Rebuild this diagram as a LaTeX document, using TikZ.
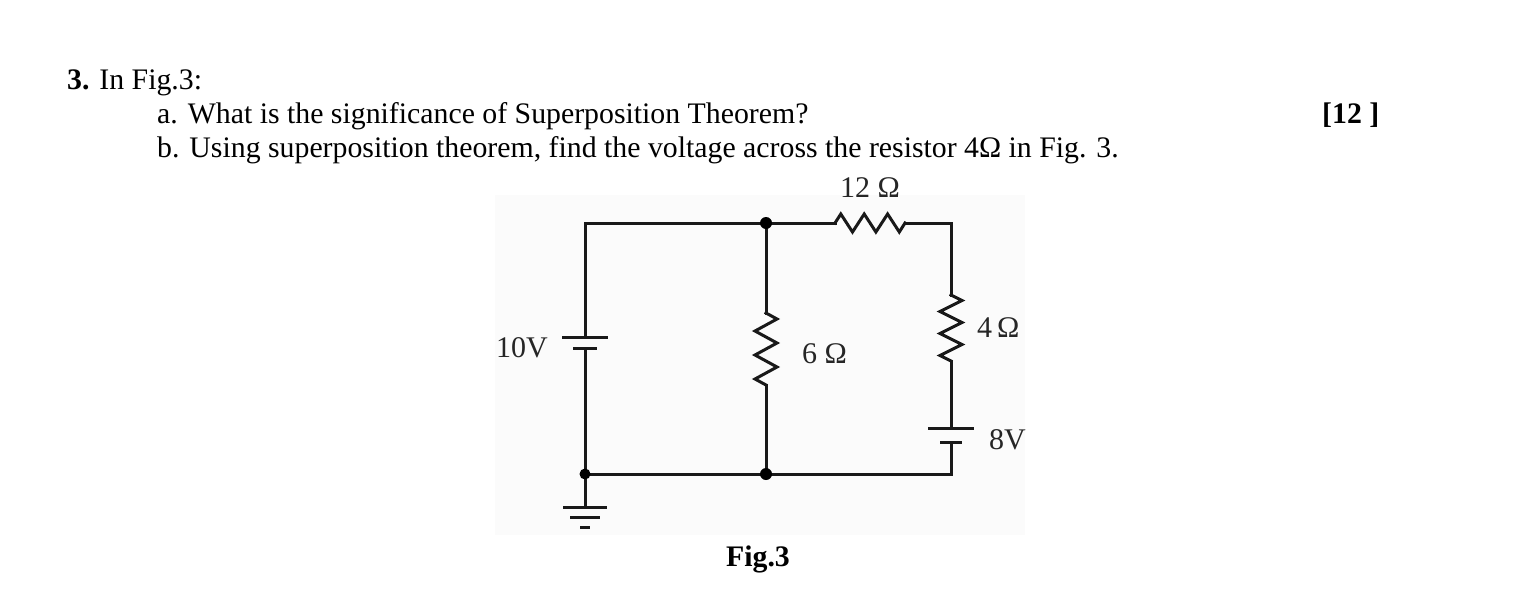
\documentclass[tikz,border=0pt]{standalone}
\usepackage{fontspec}
\setmainfont{Liberation Serif}
\begin{document}
\begin{tikzpicture}[x=1pt,y=-1pt,
  txt/.style={inner sep=0pt,font=\fontsize{29.8}{34}\selectfont},
  lbl/.style={inner sep=0pt,font=\fontsize{30}{34}\selectfont,text=black!85},
  wire/.style={line width=3pt,line cap=rect,line join=miter,black!90},
  plate/.style={line width=3pt,black!90},
  junction/.style={circle,fill=black,inner sep=0pt,minimum size=12pt}]
\useasboundingbox (0,0) rectangle (1517,600);
\fill[black!1.5] (495,195) rectangle (1025,535);
% text
\node[txt,anchor=base west] (l1) at (67,89) {\textbf{3.} In Fig.3:};
\node[txt,anchor=base west] (la) at (157,123) {a. What is the significance of Superposition Theorem?};
\node[txt,anchor=base west] (lb) at (157,157) {b. Using superposition theorem, find the voltage across the resistor 4Ω in Fig. 3.};
\node[txt,anchor=base west] (mk) at (1322,123) {\textbf{[12 ]}};
% coordinates
\coordinate (TL) at (585,223);
\coordinate (T) at (766,223);
\coordinate (R12a) at (835,223);
\coordinate (R12b) at (905,223);
\coordinate (TR) at (951,223);
\coordinate (R4a) at (951,295);
\coordinate (R4b) at (951,361);
\coordinate (B8l) at (951,428);
\coordinate (B8s) at (951,442);
\coordinate (BR) at (951,474);
\coordinate (B) at (766,474);
\coordinate (BL) at (585,474);
\coordinate (B10l) at (585,337);
\coordinate (B10s) at (585,348);
\coordinate (R6a) at (766,313);
\coordinate (R6b) at (766,385);
\coordinate (G) at (585,507);
% wires
\draw[wire] (B10l) -- (TL) -- (T) -- (R12a);
\draw[wire] (R12b) -- (TR) -- (R4a);
\draw[wire] (R4b) -- (B8l);
\draw[wire] (B8s) -- (BR) -- (B) -- (BL) -- (B10s);
\draw[wire] (BL) -- (G);
\draw[wire] (T) -- (R6a);
\draw[wire] (R6b) -- (B);
% resistors
\draw[wire,line join=miter] (R12a) -- ++(5.8,-9) -- ++(11.7,18) -- ++(11.7,-18) -- ++(11.7,18) -- ++(11.7,-18) -- ++(11.7,18) -- (R12b);
\draw[wire,line join=miter] (R6a) -- ++(11,6) -- ++(-22,12) -- ++(22,12) -- ++(-22,12) -- ++(22,12) -- ++(-22,12) -- (R6b);
\draw[wire,line join=miter] (R4a) -- ++(11,5.5) -- ++(-22,11) -- ++(22,11) -- ++(-22,11) -- ++(22,11) -- ++(-22,11) -- (R4b);
% batteries
\draw[plate] ([xshift=-23pt]B10l) -- ([xshift=23pt]B10l);
\draw[plate] ([xshift=-12pt]B10s) -- ([xshift=12pt]B10s);
\draw[plate] ([xshift=-23pt]B8l) -- ([xshift=23pt]B8l);
\draw[plate] ([xshift=-11pt]B8s) -- ([xshift=11pt]B8s);
% ground
\draw[plate] ([xshift=-22pt]G) -- ([xshift=22pt]G);
\draw[plate] ([xshift=-15pt,yshift=-10pt]G) -- ([xshift=15pt,yshift=-10pt]G);
\draw[plate] ([xshift=-5pt,yshift=-20pt]G) -- ([xshift=5pt,yshift=-20pt]G);
% junctions
\node[junction] (jT) at (T) {};
\node[junction] (jB) at (B) {};
\node[junction,minimum size=11pt] (jBL) at (BL) {};
% labels
\node[lbl,anchor=base] (l12) at (870,197) {12 Ω};
\node[lbl,anchor=base west] (l4) at (977,337) {4\,Ω};
\node[lbl,anchor=base west] (l6) at (802,363) {6 Ω};
\node[lbl,anchor=base east] (l10) at (548,357) {10V};
\node[lbl,anchor=base west] (l8) at (989,449) {8V};
\node[txt,anchor=base] (fig) at (758,566) {\textbf{Fig.3}};
\end{tikzpicture}
\end{document}
